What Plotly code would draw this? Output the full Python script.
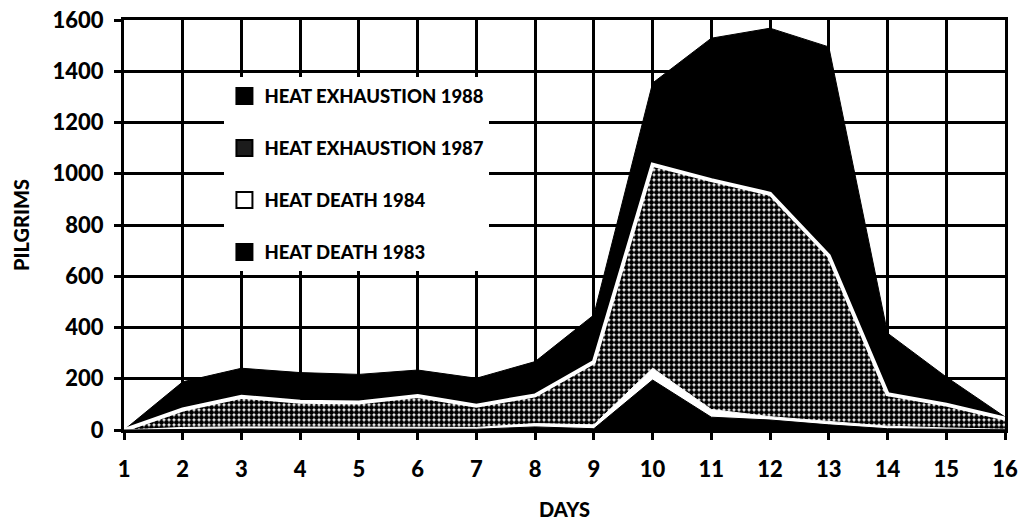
import plotly.graph_objects as go

days = list(range(1, 17))
heat_exhaustion_1988 = [0, 188, 241, 224, 217, 234, 202, 267, 449, 1354, 1529, 1568, 1495, 378, 207, 51]
heat_exhaustion_1987 = [0, 80, 130, 110, 107, 133, 95, 135, 265, 1035, 975, 922, 680, 140, 99, 45]
heat_death_1984 = [0, 10, 12, 12, 10, 12, 10, 25, 20, 241, 80, 52, 33, 15, 8, 3]
heat_death_1983 = [0, 3, 4, 4, 3, 4, 3, 12, 5, 195, 50, 39, 20, 5, 3, 1]

names = ["HEAT EXHAUSTION 1988", "HEAT EXHAUSTION 1987", "HEAT DEATH 1984", "HEAT DEATH 1983"]
y_ticks = [0, 200, 400, 600, 800, 1000, 1200, 1400, 1600]

FONT = "Lato"

fig = go.Figure()

# Areas drawn back to front (each filled down to zero)
fig.add_trace(go.Scatter(x=days, y=heat_exhaustion_1988, mode="lines", fill="tozeroy",
                         line=dict(color="black", width=1), fillcolor="black",
                         showlegend=False, hoverinfo="x+y", name=names[0]))
fig.add_trace(go.Scatter(x=days, y=heat_exhaustion_1987, mode="lines", fill="tozeroy",
                         line=dict(color="white", width=4),
                         fillpattern=dict(shape=".", fgcolor="black", bgcolor="white",
                                          size=5, solidity=0.75, fillmode="replace"),
                         showlegend=False, hoverinfo="x+y", name=names[1]))
fig.add_trace(go.Scatter(x=days, y=heat_death_1984, mode="lines", fill="tozeroy",
                         line=dict(color="white", width=1), fillcolor="white",
                         showlegend=False, hoverinfo="x+y", name=names[2]))
fig.add_trace(go.Scatter(x=days, y=heat_death_1983, mode="lines", fill="tozeroy",
                         line=dict(color="black", width=1), fillcolor="black",
                         showlegend=False, hoverinfo="x+y", name=names[3]))

# Legend entries
legend_fill = ["black", "#1c1c1c", "white", "black"]
for i, (nm, fc) in enumerate(zip(names, legend_fill)):
    fig.add_trace(go.Scatter(x=[None], y=[None], mode="markers", name=nm,
                             legendgroup=f"g{i}",
                             marker=dict(symbol="square", size=16, color=fc,
                                         line=dict(color="black", width=2))))

fig.update_layout(
    width=1023, height=526,
    margin=dict(l=124, r=18, t=20, b=96, autoexpand=False),
    paper_bgcolor="white", plot_bgcolor="white",
    font=dict(family=FONT, color="black", size=20, weight=900),
    showlegend=True,
    legend=dict(x=0.114, y=0.86, xanchor="left", yanchor="top",
                bgcolor="white", borderwidth=0, tracegroupgap=25,
                font=dict(family=FONT, size=18.5, color="black", weight=900),
                itemsizing="trace"),
    xaxis=dict(range=[1, 16], tickvals=days, ticktext=[str(d) for d in days],
               showgrid=True, gridcolor="black", gridwidth=3,
               showline=True, linecolor="black", linewidth=3, mirror=True,
               ticks="outside", ticklen=7, tickwidth=3, tickcolor="black",
               ticklabelstandoff=11, zeroline=False, automargin=False,
               tickfont=dict(family=FONT, size=22, weight=900),
               title=dict(text="DAYS", standoff=22,
                          font=dict(family=FONT, size=20, weight=900))),
    yaxis=dict(range=[0, 1600], tickvals=y_ticks,
               showgrid=True, gridcolor="black", gridwidth=3,
               showline=True, linecolor="black", linewidth=3, mirror=True,
               ticks="outside", ticklen=7, tickwidth=3, tickcolor="black",
               ticklabelstandoff=6, zeroline=False, automargin=False,
               tickfont=dict(family=FONT, size=22, weight=900),
               title=dict(text="PILGRIMS", standoff=18,
                          font=dict(family=FONT, size=20, weight=900))),
)

fig.write_html("out.html", config={"displayModeBar": False},
               post_script="document.body.style.margin='0';document.body.style.overflow='hidden';")
